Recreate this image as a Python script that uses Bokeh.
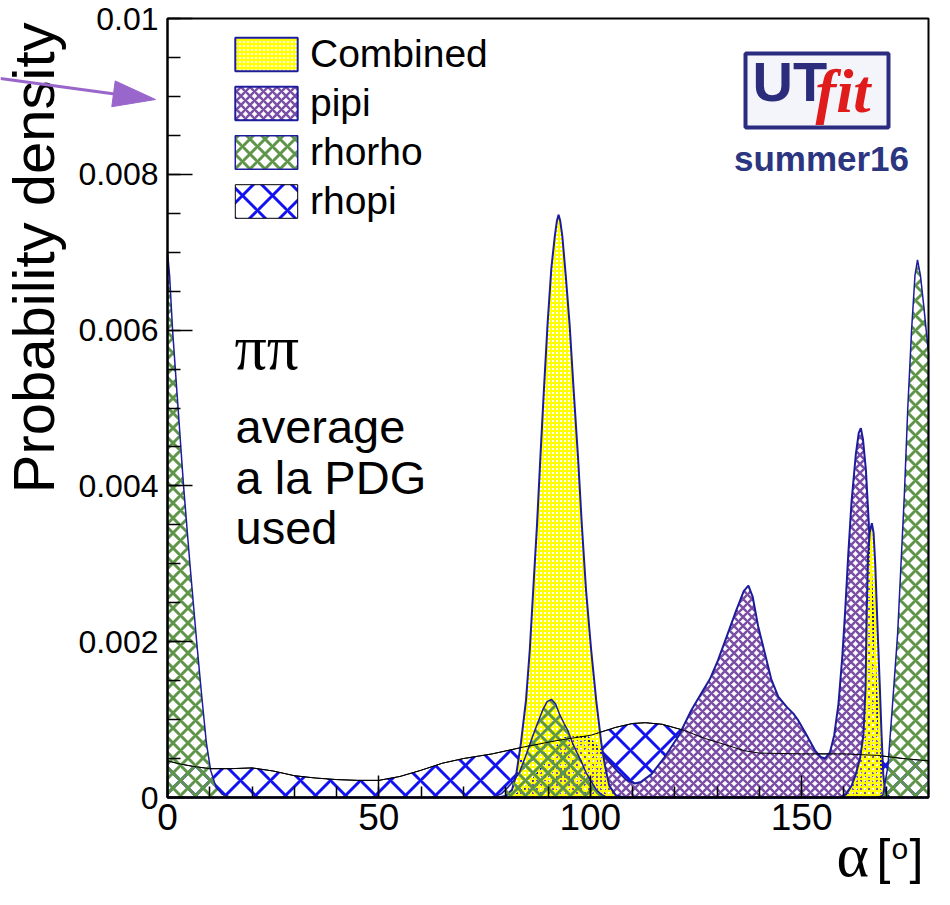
import numpy as np
from bokeh.plotting import figure
from bokeh.models import (FixedTicker, Legend, LegendItem, Label, Arrow, PolyAnnotation,
                          BoxAnnotation, Range1d, CustomJSTickFormatter)
from bokeh.embed import file_html
from bokeh.resources import INLINE

# ---------------- data ----------------
combined_alpha = [78, 80, 81.5, 82.5, 83.6, 84.8, 85.7, 86.5, 87.4, 88.2, 89.0, 89.9, 90.8, 91.6,
                  92.1, 92.5, 92.9, 93.4, 94.2, 95.1, 96.1, 97.1, 98.0, 99.0, 100.2, 101.4, 102.6,
                  103.5, 104.5, 106, 108, 159, 160.5, 161.8, 162.8, 163.8, 164.6, 165.1, 165.4,
                  165.7, 166.1, 166.6, 167.0, 167.4, 168.0, 168.5, 168.9, 169.3, 169.8, 171]
combined_pdf = [0, 0.00002, 0.0001, 0.0003, 0.0007, 0.00125, 0.0019, 0.00266, 0.0035, 0.00437,
                0.0052, 0.00608, 0.0068, 0.0072, 0.0074, 0.00748, 0.0074, 0.0072, 0.0067, 0.00608,
                0.0052, 0.00437, 0.0035, 0.00266, 0.0019, 0.00125, 0.0007, 0.0004, 0.00015,
                0.00003, 0, 0, 0.00004, 0.00015, 0.0003, 0.0005, 0.0008, 0.0014, 0.0024, 0.0031,
                0.0034, 0.00352, 0.0034, 0.0030, 0.0021, 0.0014, 0.0008, 0.0003, 0.00005, 0]

pipi_alpha = [0, 80, 82, 84, 86, 88, 90, 92, 94, 96, 97.5, 99.4, 101, 102.6, 104.5, 106.6, 108.5,
              110.5, 112, 114.5, 117.6, 121, 123.9, 126.3, 128.3, 130.2, 132.5, 134.5, 136.3,
              137.4, 138.4, 139.7, 141.3, 142.8, 144.5, 146.5, 148, 149.2, 151.2, 153.2, 154.5,
              155.5, 156.7, 157.7, 158.7, 159.6, 160.3, 161, 161.8, 162.8, 163.5, 164, 164.5,
              165.2, 165.8, 166.5, 167.2, 167.9, 168.6, 169.4, 170.5, 180]
pipi_pdf = [0, 0, 0.00002, 0.0001, 0.0002, 0.00035, 0.0005, 0.00065, 0.00076, 0.0008, 0.00079,
            0.00073, 0.00066, 0.00058, 0.00046, 0.00033, 0.00023, 0.00018, 0.0002, 0.0003,
            0.00052, 0.0008, 0.00112, 0.00134, 0.00152, 0.00176, 0.0021, 0.0024, 0.00265,
            0.00272, 0.00258, 0.0022, 0.00185, 0.00152, 0.00129, 0.00116, 0.00108, 0.00099,
            0.0008, 0.0006, 0.00052, 0.0005, 0.00058, 0.0008, 0.0012, 0.0018, 0.0024, 0.0031,
            0.0038, 0.0044, 0.00468, 0.00474, 0.0046, 0.0042, 0.0036, 0.0028, 0.0019, 0.0011,
            0.0005, 0.00015, 0, 0]

rhorho_alpha = [0, 0.5, 1.2, 2.5, 3.8, 5.3, 6.9, 8.1, 9.2, 10.2, 11.5, 13, 15, 77, 79, 80.5, 82,
                83.3, 84.5, 86, 87.5, 88.8, 89.8, 90.8, 91.8, 92.8, 93.8, 94.7, 95.8, 96.9, 97.9,
                99, 100.2, 101.4, 102.6, 104, 168, 169.2, 170.4, 171.5, 172.7, 173.5, 174.3,
                175.1, 176, 176.8, 177.4, 178.1, 178.9, 180]
rhorho_pdf = [0.0070, 0.0067, 0.0060, 0.0050, 0.0040, 0.0030, 0.0020, 0.0013, 0.0007, 0.00035,
              0.00013, 0.00004, 0, 0, 0.00005, 0.00013, 0.00022, 0.00033, 0.0005, 0.00073,
              0.00095, 0.00113, 0.00123, 0.00126, 0.0012, 0.00106, 0.00095, 0.00086, 0.0007,
              0.00057, 0.00046, 0.00032, 0.00021, 0.0001, 0.00004, 0, 0, 0.00003, 0.0004,
              0.0012, 0.0021, 0.0030, 0.0039, 0.0050, 0.0060, 0.0067, 0.0069, 0.0067, 0.0063,
              0.0057]

rhopi_alpha = [0, 3, 6, 10, 15, 20, 25, 30, 35, 40, 45, 50, 55, 60, 65, 70, 76.8, 84.4, 92, 100.2,
               106, 110, 113, 117, 122.3, 127, 131.8, 136.5, 140, 150, 160, 168, 174, 180]
rhopi_pdf = [0.00047, 0.00043, 0.0004, 0.00037, 0.00037, 0.00038, 0.00034, 0.00028, 0.00025,
             0.00023, 0.00022, 0.00022, 0.00027, 0.00035, 0.00044, 0.0005, 0.00056, 0.00065,
             0.00073, 0.0008, 0.0009, 0.00095, 0.00096, 0.00094, 0.00086, 0.00076, 0.00068,
             0.0006, 0.00057, 0.00056, 0.00056, 0.00054, 0.0005, 0.00047]

legend_labels = ["Combined", "pipi", "rhorho", "rhopi"]
x_limits = (0, 180)
y_limits = (0, 0.01)
x_major_ticks = [0, 50, 100, 150]
x_minor_ticks = list(range(0, 181, 10))
y_major_ticks = [0, 0.002, 0.004, 0.006, 0.008, 0.01]
y_minor_ticks = [round(i * 0.0005, 6) for i in range(21)]

# ---------------- layout (pixel geometry of the data box) ----------------
W, H = 934, 889
DL, DR, DT, DB = 167, 928, 18, 797     # data box edges in canvas pixels


def fx(px):
    """canvas pixel -> data x"""
    return x_limits[0] + (px - DL) * (x_limits[1] - x_limits[0]) / (DR - DL)


def fy(py):
    """canvas pixel -> data y"""
    return y_limits[0] + (DB - py) * (y_limits[1] - y_limits[0]) / (DB - DT)


p = figure(width=W, height=H, x_range=Range1d(fx(0), fx(W)), y_range=Range1d(fy(H), fy(0)),
           output_backend="svg", toolbar_location=None,
           min_border_left=0, min_border_right=0, min_border_top=0, min_border_bottom=0)
p.background_fill_color = "white"
p.border_fill_color = "white"
p.grid.visible = False
p.outline_line_color = None


def closed(xs, ys):
    return [xs[0]] + list(xs) + [xs[-1]], [0] + list(ys) + [0]


NAVY = "#1c1c9c"
cx, cy = closed(rhopi_alpha, rhopi_pdf)
r_rhopi = p.patch(cx, cy, fill_alpha=0, hatch_pattern="diagonal_cross", hatch_color="#1212f0",
                  hatch_scale=30, hatch_weight=3, line_color="black", line_width=1)
cx, cy = closed(pipi_alpha, pipi_pdf)
r_pipi = p.patch(cx, cy, fill_color="white", fill_alpha=1, hatch_pattern="diagonal_cross",
                 hatch_color="#7b4fa5", hatch_scale=9, hatch_weight=2.5,
                 line_color=NAVY, line_width=2)
cx, cy = closed(combined_alpha, combined_pdf)
r_comb = p.patch(cx, cy, fill_alpha=0, hatch_pattern="cross", hatch_color="#ffff00",
                 hatch_scale=4, hatch_weight=2, line_color=NAVY, line_width=2)
cx, cy = closed(rhorho_alpha, rhorho_pdf)
r_rr = p.patch(cx, cy, fill_alpha=0, hatch_pattern="diagonal_cross", hatch_color="#5e9548",
               hatch_scale=15, hatch_weight=3, line_color=NAVY, line_width=1.5)
p.line(rhopi_alpha, rhopi_pdf, line_color="black", line_width=1)

# frame box
p.add_layout(BoxAnnotation(left=x_limits[0], right=x_limits[1], bottom=y_limits[0],
                           top=y_limits[1], fill_alpha=0, line_color="black",
                           line_alpha=1, line_width=2))

# ---------------- axes (fixed on the data box) ----------------
p.xaxis.ticker = FixedTicker(ticks=x_major_ticks, minor_ticks=x_minor_ticks)
p.yaxis.ticker = FixedTicker(ticks=y_major_ticks, minor_ticks=y_minor_ticks)
p.yaxis.formatter = CustomJSTickFormatter(
    code="return tick == 0 ? '0' : String(Number(tick.toPrecision(6)));")
p.xaxis.fixed_location = y_limits[0]
p.yaxis.fixed_location = x_limits[0]
p.xaxis.bounds = x_limits
p.yaxis.bounds = y_limits
for ax in (p.xaxis[0], p.yaxis[0]):
    ax.axis_line_width = 2
    ax.axis_line_color = "black"
    ax.major_tick_out = 0
    ax.minor_tick_out = 0
    ax.major_tick_line_width = 1.5
    ax.minor_tick_line_width = 1.5
    ax.major_label_text_font = "Liberation Sans"
    ax.major_label_text_color = "black"
p.yaxis.major_label_text_font_size = "32px"
p.xaxis.major_label_text_font_size = "37px"
p.yaxis.major_label_standoff = 9
p.xaxis.major_label_standoff = 6
p.xaxis.major_tick_in = 22
p.xaxis.minor_tick_in = 11
p.yaxis.major_tick_in = 25
p.yaxis.minor_tick_in = 13

# ---------------- legend ----------------
legend = Legend(items=[LegendItem(label=lab, renderers=[r]) for lab, r in
                       zip(legend_labels, [r_comb, r_pipi, r_rr, r_rhopi])],
                location=(227, H - 223), orientation="vertical",
                glyph_width=78, glyph_height=42, label_height=42,
                label_text_font="Liberation Sans", label_text_font_size="39px",
                label_text_color="black",
                label_standoff=5, spacing=5, padding=0, margin=0,
                background_fill_alpha=0, border_line_alpha=0)
p.add_layout(legend)


# ---------------- titles and texts ----------------
def add_text(px, py, text, size, font="Liberation Sans", color="black", style="normal",
             align="left", baseline=None, angle=0.0):
    """py is the text baseline in canvas pixels (anchored by the em-box middle)."""
    if baseline is None:
        py = py - 0.345 * size
        baseline = "middle"
    p.add_layout(Label(x=fx(px), y=fy(py), text=text, text_font=font,
                       text_font_size=f"{size}px", text_color=color, text_font_style=style,
                       text_align=align, text_baseline=baseline, angle=angle))


add_text(0, 22, "Probability density", 58, align="right", baseline="top", angle=np.pi / 2)
add_text(836, 876, "α", 62, font="Liberation Serif")
add_text(876, 874, "[", 50)
add_text(891, 858, "o", 30)
add_text(909, 874, "]", 50)

add_text(234, 369, "ππ", 64, font="Liberation Serif")
for txt, base in [("average", 442), ("a la PDG", 493), ("used", 543)]:
    add_text(235, base, txt, 47)

# logo
p.add_layout(BoxAnnotation(left=fx(745), right=fx(888), top=fy(53), bottom=fy(127),
                           fill_color="#f4f4fb", fill_alpha=1,
                           line_color="#2b2b80", line_alpha=1, line_width=4))
add_text(752, 100, "UT", 56, color="#2c2c7c", style="bold")
add_text(815, 112, "fit", 62, font="Liberation Serif", color="#e01b1b", style="bold italic")
add_text(821, 170, "summer16", 35, color="#2c3580", style="bold", align="center")

# arrow (body + head)
ARROW = "#9966cc"
p.add_layout(Arrow(end=None, x_start=fx(0), y_start=fy(78), x_end=fx(116), y_end=fy(93.7),
                   line_color=ARROW, line_width=3))
p.add_layout(PolyAnnotation(xs=[fx(155), fx(111.3), fx(114.7)],
                            ys=[fy(99), fy(106.2), fy(80.4)],
                            fill_color=ARROW, fill_alpha=1, line_color=ARROW, line_alpha=1,
                            line_width=1))

open("out.html", "w").write(file_html(p, INLINE))
